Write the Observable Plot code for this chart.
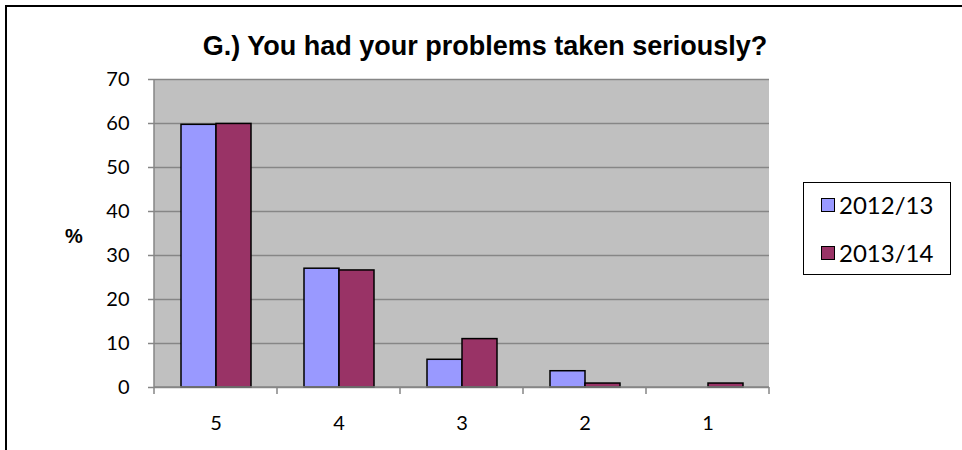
<!DOCTYPE html>
<html>
<head>
<meta charset="utf-8">
<script src="https://cdn.jsdelivr.net/npm/d3@7"></script>
<script src="https://cdn.jsdelivr.net/npm/@observablehq/plot@0.6"></script>
<style>
  html, body { margin: 0; padding: 0; background: #fff; }
  #wrap { position: relative; width: 962px; height: 450px; overflow: hidden; font-family: Lato, "Open Sans", sans-serif; }
  #border { position: absolute; left: 5px; top: 5px; width: 1100px; height: 600px; border-left: 2px solid #000; border-top: 2px solid #000; }
  #title { position: absolute; left: 0; width: 970px; top: 30px; text-align: center; font-family: "Liberation Sans", Arial, sans-serif; font-weight: bold; font-size: 27px; color: #000; line-height: 32px; }
  #ylabel { position: absolute; left: 65px; top: 224px; font-family: "Liberation Sans", Arial, sans-serif; font-weight: bold; font-size: 20px; line-height: 24px; }
  #legend { position: absolute; left: 803px; top: 182px; width: 148px; height: 93px; border: 1px solid #000; box-sizing: border-box; background: #fff; font-family: Lato, "Open Sans", sans-serif; font-size: 24px; }
  .item { position: absolute; left: 17px; display: flex; align-items: center; line-height: 28px; }
  .sw { width: 12px; height: 12px; border: 1px solid #000; margin-right: 4px; }
  #chart svg { position: absolute; left: 0; top: 0; }
  #chart svg text { fill: #000; font-size: 20px !important; }
</style>
</head>
<body>
<div id="wrap">
  <div id="border"></div>
  <div id="chart"></div>
  <div id="title"></div>
  <div id="ylabel"></div>
  <div id="legend"></div>
</div>
<script>
const title = "G.) You had your problems taken seriously?";
const yLabel = "%";
const categories = ["5", "4", "3", "2", "1"];
const series = ["2012/13", "2013/14"];
const values2012 = [59.7, 27.0, 6.3, 3.7, 0];
const values2013 = [59.9, 26.6, 11.0, 0.9, 0.9];
const colors = ["#9999FF", "#993366"];
const yTicks = [0, 10, 20, 30, 40, 50, 60, 70];

const rows = [];
categories.forEach((c, i) => {
  rows.push({category: c, series: series[0], value: values2012[i]});
  rows.push({category: c, series: series[1], value: values2013[i]});
});

document.getElementById("title").textContent = title;
document.getElementById("ylabel").textContent = yLabel;

const plot = Plot.plot({
  width: 962,
  height: 450,
  marginLeft: 153,
  marginRight: 192,
  marginTop: 79,
  marginBottom: 63,
  style: {fontFamily: "Lato, 'Open Sans', sans-serif", fontSize: "20px", background: "transparent", overflow: "visible", color: "#000"},
  facet: {data: rows, x: "category"},
  fx: {domain: categories, padding: 0, axis: "bottom", label: null, tickSize: 0, tickPadding: 28},
  x: {domain: series, axis: null, paddingInner: 0, paddingOuter: 0.745},
  y: {domain: [0, 70], ticks: yTicks, tickSize: 6, tickPadding: 19, label: null, grid: false},
  color: {domain: series, range: colors},
  marks: [
    Plot.ruleY(yTicks, {stroke: "#868686", strokeWidth: 1.5}),
    Plot.barY(rows, {x: "series", y: "value", fill: "series", stroke: "#000", strokeWidth: 1.5})
  ]
});
document.getElementById("chart").appendChild(plot);

// plot background, axis lines and ticks drawn from the scales
const svg = d3.select(plot);
const fx = plot.scale("fx");
const y = plot.scale("y");
const x0 = fx.apply(categories[0]);
const x1 = fx.apply(categories[categories.length - 1]) + fx.bandwidth;
const yb = y.apply(0), yt = y.apply(70);
svg.insert("rect", ":first-child")
  .attr("x", x0).attr("y", yt).attr("width", x1 - x0).attr("height", yb - yt)
  .attr("fill", "#C0C0C0");
const g = svg.append("g").attr("stroke", "#868686").attr("stroke-width", 1.5);
g.append("line").attr("x1", x0).attr("x2", x1).attr("y1", yb).attr("y2", yb);
g.append("line").attr("x1", x0).attr("x2", x0).attr("y1", yt).attr("y2", yb);
categories.forEach(c => {
  const xx = fx.apply(c);
  g.append("line").attr("x1", xx).attr("x2", xx).attr("y1", yb).attr("y2", yb + 7);
});
g.append("line").attr("x1", x1).attr("x2", x1).attr("y1", yb).attr("y2", yb + 7);
svg.selectAll("g[aria-label='y-axis tick'] path, g[aria-label='y-axis'] .tick line").attr("stroke", "#868686").attr("stroke-width", 1.5);

// legend
const legend = d3.select("#legend");
series.forEach((s, i) => {
  const it = legend.append("div").attr("class", "item").style("top", (i === 0 ? 8 : 56) + "px");
  it.append("div").attr("class", "sw").style("background", colors[i]);
  it.append("span").text(s);
});
</script>
</body>
</html>
